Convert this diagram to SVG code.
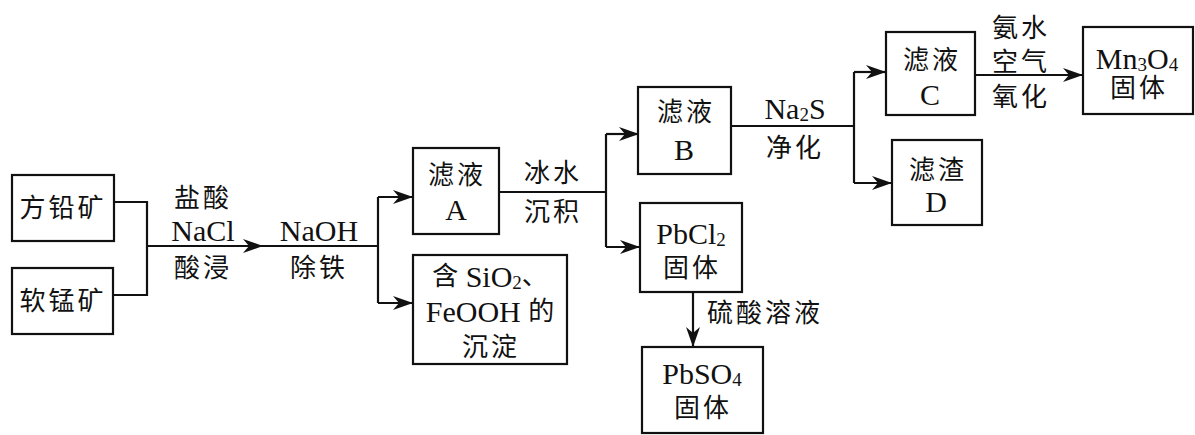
<svg xmlns="http://www.w3.org/2000/svg" width="1195" height="435" viewBox="0 0 1195 435">
<defs>
<style>
.box{fill:#fff;stroke:#111;stroke-width:2.2}
.ln{fill:none;stroke:#111;stroke-width:2.2}
text{font-family:"Liberation Serif","Noto Sans CJK SC",serif;font-size:26px;fill:#111;text-anchor:middle;dominant-baseline:central}
.cn{letter-spacing:3px}
.la{font-size:30px}
.sub{font-size:19px}
.c26{font-size:26px}
</style>
<marker id="ah" viewBox="0 0 20 14" refX="19" refY="7" markerWidth="20" markerHeight="14" markerUnits="userSpaceOnUse" orient="auto">
<path d="M0,0 L20,7 L0,14 L6,7 Z" fill="#111"/>
</marker>
</defs>
<rect width="1195" height="435" fill="#fff"/>
<g id="connectors">
<polyline class="ln" points="114,202 147,202 147,295 113,295"/>
<path class="ln" d="M147,246 L262,246" marker-end="url(#ah)"/>
<path class="ln" d="M262,246 L378,246"/>
<path class="ln" d="M378,197 L378,303"/>
<path class="ln" d="M378,197 L412,197" marker-end="url(#ah)"/>
<path class="ln" d="M378,303 L412,303" marker-end="url(#ah)"/>
<path class="ln" d="M499,192 L606,192"/>
<path class="ln" d="M606,134 L606,247"/>
<path class="ln" d="M606,134 L638,134" marker-end="url(#ah)"/>
<path class="ln" d="M606,247 L639,247" marker-end="url(#ah)"/>
<path class="ln" d="M731,126 L854,126"/>
<path class="ln" d="M854,72 L854,183"/>
<path class="ln" d="M854,72 L885,72" marker-end="url(#ah)"/>
<path class="ln" d="M854,183 L891,183" marker-end="url(#ah)"/>
<path class="ln" d="M975,75 L1082,75" marker-end="url(#ah)"/>
<path class="ln" d="M693,292 L693,346" marker-end="url(#ah)"/>
<text class="cn" x="203" y="198">盐酸</text>
<text class="la" x="203" y="230">NaCl</text>
<text class="cn" x="203" y="268">酸浸</text>
<text class="la" x="319" y="230">NaOH</text>
<text class="cn" x="319" y="268">除铁</text>
<text class="cn" x="553" y="173">冰水</text>
<text class="cn" x="553" y="212">沉积</text>
<text class="la" x="795" y="108">Na<tspan class="sub" dy="6">2</tspan><tspan dy="-6">S</tspan></text>
<text class="cn" x="795" y="148">净化</text>
<text class="cn" x="1021" y="28">氨水</text>
<text class="cn" x="1021" y="62">空气</text>
<text class="cn" x="1021" y="97">氧化</text>
<text class="cn" x="765" y="313">硫酸溶液</text>
</g>
<g id="n_fangqian">
<rect class="box" x="12" y="175" width="102" height="66"/>
<text class="cn" x="63" y="208">方铅矿</text>
</g>
<g id="n_ruanmeng">
<rect class="box" x="12" y="268" width="101" height="66"/>
<text class="cn" x="63" y="301">软锰矿</text>
</g>
<g id="n_A">
<rect class="box" x="413" y="148" width="86" height="86"/>
<text class="cn" x="457" y="175">滤液</text>
<text class="la" x="456" y="209">A</text>
</g>
<g id="n_sio2">
<rect class="box" x="413" y="255" width="154" height="109"/>
<text class="la" x="490" y="276"><tspan class="c26">含</tspan> SiO<tspan class="sub" dy="6">2</tspan><tspan class="c26" dy="-6">、</tspan></text>
<text class="la" x="490" y="311">FeOOH <tspan class="c26">的</tspan></text>
<text class="cn" x="491" y="347">沉淀</text>
</g>
<g id="n_B">
<rect class="box" x="638" y="87" width="93" height="87"/>
<text class="cn" x="686" y="112">滤液</text>
<text class="la" x="684" y="149">B</text>
</g>
<g id="n_PbCl2">
<rect class="box" x="640" y="203" width="102" height="89"/>
<text class="la" x="691" y="233">PbCl<tspan class="sub" dy="6">2</tspan></text>
<text class="cn" x="692" y="268">固体</text>
</g>
<g id="n_PbSO4">
<rect class="box" x="642" y="347" width="121" height="86"/>
<text class="la" x="702" y="373">PbSO<tspan class="sub" dy="6">4</tspan></text>
<text class="cn" x="703" y="408">固体</text>
</g>
<g id="n_C">
<rect class="box" x="886" y="32" width="89" height="83"/>
<text class="cn" x="932" y="60">滤液</text>
<text class="la" x="930" y="94">C</text>
</g>
<g id="n_D">
<rect class="box" x="892" y="140" width="90" height="85"/>
<text class="cn" x="938" y="170">滤渣</text>
<text class="la" x="936" y="201">D</text>
</g>
<g id="n_Mn3O4">
<rect class="box" x="1083" y="27" width="110" height="87"/>
<text class="la" x="1137" y="58">Mn<tspan class="sub" dy="6">3</tspan><tspan dy="-6">O</tspan><tspan class="sub" dy="6">4</tspan></text>
<text class="cn" x="1139" y="88">固体</text>
</g>
</svg>
